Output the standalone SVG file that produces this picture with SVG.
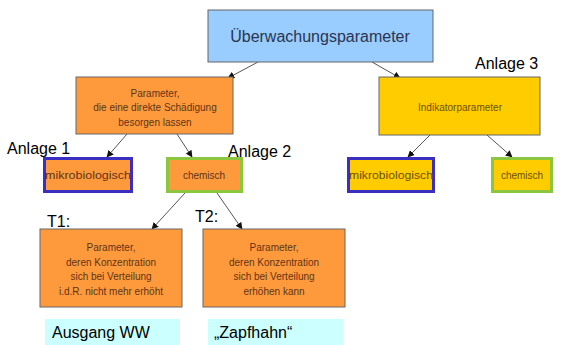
<svg xmlns="http://www.w3.org/2000/svg" width="568" height="345" viewBox="0 0 568 345">
<defs>
<marker id="ah" viewBox="0 0 10 10" refX="9" refY="5" markerWidth="7" markerHeight="7" orient="auto" markerUnits="userSpaceOnUse">
<path d="M0,0 L10,5 L0,10 z" fill="#111"/>
</marker>
<style>
.box{stroke:#666;stroke-width:1}
.blue{fill:#99ccff}
.orange{fill:#ff9a3c}
.yellow{fill:#ffcc00}
.bb{stroke:#3a2fc0;stroke-width:3}
.gb{stroke:#8cc63f;stroke-width:3}
.t{font-family:"Liberation Sans",Arial,sans-serif;fill:#5e3418;font-size:10px;text-anchor:middle}
.ty{font-family:"Liberation Sans",Arial,sans-serif;fill:#6e5000;font-size:10px;text-anchor:middle}
.lab{font-family:"Liberation Sans",Arial,sans-serif;fill:#000;font-size:16px}
.cy{fill:#ccffff}
.c{stroke:#555;stroke-width:1;fill:none;marker-end:url(#ah)}
</style>
</defs>
<g id="connectors">
<line class="c" x1="258" y1="62" x2="228" y2="78"/>
<line class="c" x1="372" y1="62" x2="400" y2="78"/>
<line class="c" x1="127" y1="134" x2="107" y2="157"/>
<line class="c" x1="177" y1="134" x2="192" y2="157"/>
<line class="c" x1="430" y1="135" x2="408" y2="157"/>
<line class="c" x1="487" y1="135" x2="512" y2="157"/>
<line class="c" x1="185" y1="193" x2="152" y2="229"/>
<line class="c" x1="217" y1="193" x2="242" y2="229"/>
</g>
<g id="top">
<rect class="box blue" x="208" y="10" width="225" height="52"/>
<text x="320" y="42" font-family="Liberation Sans,Arial,sans-serif" font-size="16" fill="#2a3550" text-anchor="middle">Überwachungsparameter</text>
</g>
<g id="direkt">
<rect class="box orange" x="76" y="77" width="157" height="57"/>
<text class="t" x="155" y="97">Parameter,</text>
<text class="t" x="155" y="111">die eine direkte Schädigung</text>
<text class="t" x="155" y="126">besorgen lassen</text>
</g>
<g id="indikator">
<rect class="box yellow" x="379" y="77" width="161" height="58"/>
<text class="ty" x="460" y="111">Indikatorparameter</text>
</g>
<g id="mikro1">
<rect class="orange bb" x="44.5" y="158.5" width="87" height="33"/>
<text class="t" x="88" y="179" textLength="86" lengthAdjust="spacingAndGlyphs">mikrobiologisch</text>
</g>
<g id="chem1">
<rect class="orange gb" x="167.5" y="158.5" width="74" height="33"/>
<text class="t" x="204" y="179">chemisch</text>
</g>
<g id="mikro2">
<rect class="yellow bb" x="348.5" y="158.5" width="85" height="33"/>
<text class="ty" x="391" y="179" textLength="84" lengthAdjust="spacingAndGlyphs">mikrobiologisch</text>
</g>
<g id="chem2">
<rect class="yellow gb" x="492.5" y="158.5" width="59" height="33"/>
<text class="ty" x="522" y="179">chemisch</text>
</g>
<g id="t1">
<rect class="box orange" x="40" y="229" width="142" height="78"/>
<text class="t" x="111" y="251">Parameter,</text>
<text class="t" x="111" y="266">deren Konzentration</text>
<text class="t" x="111" y="280">sich bei Verteilung</text>
<text class="t" x="111" y="295">i.d.R. nicht mehr erhöht</text>
</g>
<g id="t2">
<rect class="box orange" x="203" y="229" width="142" height="78"/>
<text class="t" x="274" y="251">Parameter,</text>
<text class="t" x="274" y="266">deren Konzentration</text>
<text class="t" x="274" y="280">sich bei Verteilung</text>
<text class="t" x="274" y="295">erhöhen kann</text>
</g>
<g id="labels">
<text class="lab" x="7" y="154">Anlage 1</text>
<text class="lab" x="228" y="157">Anlage 2</text>
<text class="lab" x="475" y="69">Anlage 3</text>
<text class="lab" x="47" y="227">T1:</text>
<text class="lab" x="195" y="222">T2:</text>
</g>
<g id="ausgang">
<rect class="cy" x="45" y="319" width="135" height="26"/>
<text class="lab" x="52" y="338">Ausgang WW</text>
</g>
<g id="zapfhahn">
<rect class="cy" x="208" y="319" width="135" height="26"/>
<text class="lab" x="214" y="338">„Zapfhahn“</text>
</g>
</svg>
